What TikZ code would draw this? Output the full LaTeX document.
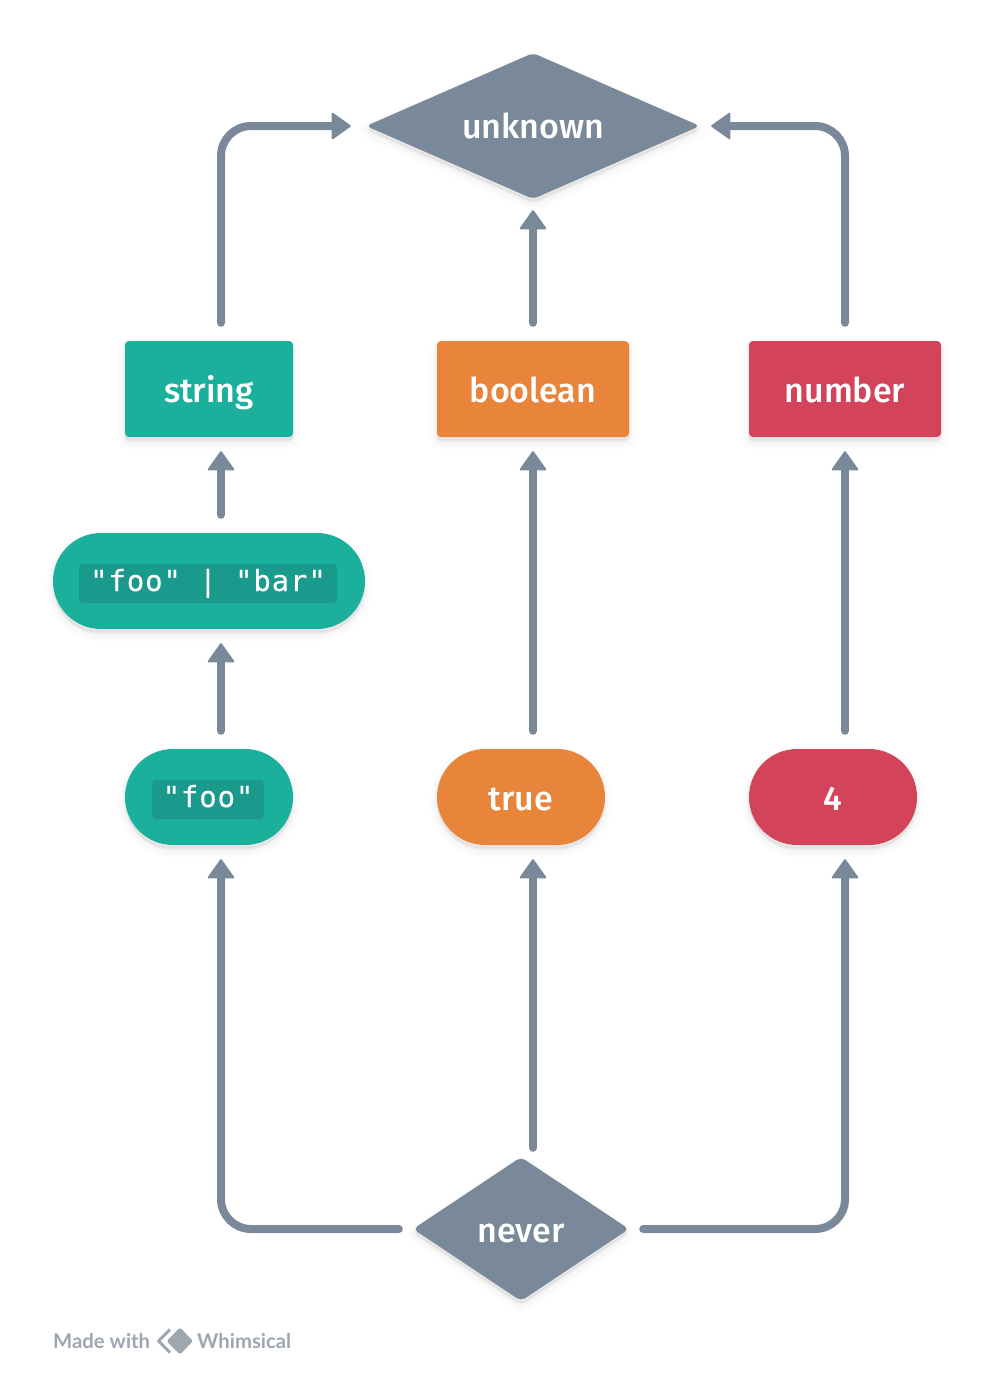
\documentclass[tikz,border=0pt]{standalone}
\usepackage{fontspec}
\setmainfont{Fira Sans Medium}
\newfontfamily\monofnt[LetterSpace=3,FakeBold=0.25]{DejaVu Sans Mono}
\newfontfamily\logofnt{Lato}
\usetikzlibrary{arrows.meta,shapes.geometric,calc}
\definecolor{slate}{HTML}{7A8999}
\definecolor{tealc}{HTML}{1BB09C}
\definecolor{tealdark}{HTML}{1A9A8C}
\definecolor{orangec}{HTML}{E8853A}
\definecolor{redc}{HTML}{D3445B}
\definecolor{logogrey}{HTML}{9EA6B0}
\tikzset{
  softshadow/.style={
    preaction={draw=black,draw opacity=.012,fill=black,fill opacity=.012,line width=14pt,transform canvas={yshift=-5pt}},
    preaction={draw=black,draw opacity=.012,fill=black,fill opacity=.012,line width=9pt,transform canvas={yshift=-5pt}},
    preaction={draw=black,draw opacity=.015,fill=black,fill opacity=.015,line width=5pt,transform canvas={yshift=-4pt}},
    preaction={draw=black,draw opacity=.02,fill=black,fill opacity=.02,line width=2pt,transform canvas={yshift=-3pt}}},
  label font/.style={text=white,text height=26pt,text depth=0pt,font=\fontsize{34}{40}\selectfont},
  boxnode/.style={softshadow,fill=#1,rectangle,rounded corners=4pt,minimum height=96pt,inner sep=0pt,label font},
  pillnode/.style={softshadow,fill=#1,rectangle,rounded corners=48pt,minimum height=96pt,inner sep=0pt,label font},
  decision/.style={softshadow,fill=slate,diamond,rounded corners=5pt,inner sep=0pt,label font},
  codechip/.style={fill=tealdark,rounded corners=4pt,minimum height=39pt,inner sep=0pt,text=white,text height=15pt,text depth=0pt,font=\monofnt\fontsize{29}{32}\selectfont},
  conn/.style={draw=slate,line width=8pt,line cap=round,rounded corners=30pt,
    -{Triangle[length=20pt,width=28pt,round,line width=2pt]}}
}
\begin{document}
\begin{tikzpicture}[x=1pt,y=-1pt]
\useasboundingbox (0,0) rectangle (994,1381);
\fill[white] (0,0) rectangle (994,1381);

\node[decision,minimum width=334pt,minimum height=146pt,aspect=2.29] (unknown) at (533,126) {};
\node[label font] (unknowntext) at (533,125) {unknown};
\node[decision,minimum width=216pt,minimum height=144pt,aspect=1.5] (never) at (521,1229) {};
\node[label font] (nevertext) at (521,1229) {never};

\node[boxnode=tealc,minimum width=168pt] (string) at (209,389) {string};
\node[boxnode=orangec,minimum width=192pt] (boolean) at (533,389) {boolean};
\node[boxnode=redc,minimum width=192pt] (number) at (845,389) {number};

\node[pillnode=tealc,minimum width=312pt] (union) at (209,581) {};
\node[codechip,minimum width=258pt] (unionchip) at (208,583.5) {"foo" | "bar"};
\node[pillnode=tealc,minimum width=168pt] (foo) at (209,797) {};
\node[codechip,minimum width=112pt] (foochip) at (208,799.5) {"foo"};
\node[pillnode=orangec,minimum width=168pt] (true) at (521,797) {true};
\node[pillnode=redc,minimum width=168pt] (four) at (833,797) {4};

\draw[conn] ([xshift=12pt,yshift=18pt]string.north) |- ([xshift=-15pt]unknown.west);
\draw[conn] ([yshift=18pt]boolean.north) -- ([yshift=-11pt]unknown.south);
\draw[conn] ([yshift=18pt]number.north) |- ([xshift=11pt]unknown.east);
\draw[conn] ([xshift=12pt,yshift=18pt]union.north) -- ([xshift=12pt,yshift=-14pt]string.south);
\draw[conn] ([xshift=12pt,yshift=18pt]foo.north) -- ([xshift=12pt,yshift=-14pt]union.south);
\draw[conn] ([xshift=12pt,yshift=18pt]true.north) -- ([yshift=-14pt]boolean.south);
\draw[conn] ([xshift=12pt,yshift=18pt]four.north) -- ([yshift=-14pt]number.south);
\draw[conn] ([xshift=-14pt]never.west) -| ([xshift=12pt,yshift=-14pt]foo.south);
\draw[conn] ([xshift=12pt,yshift=9pt]never.north) -- ([xshift=12pt,yshift=-14pt]true.south);
\draw[conn] ([xshift=14pt]never.east) -| ([xshift=12pt,yshift=-14pt]four.south);

\node[anchor=west,inner sep=0pt,text=logogrey,font=\logofnt\bfseries\fontsize{20.3}{24}\selectfont] (made) at (53,1341) {Made with};
\node[anchor=west,inner sep=0pt,text=logogrey,font=\logofnt\bfseries\fontsize{20.3}{24}\selectfont] (whim) at (197,1341) {Whimsical};
\draw[logogrey,line width=3pt,line join=round] (170,1329.5) -- (158.5,1341) -- (170,1352.5);
\fill[logogrey,rounded corners=1.5pt] (180,1327.5) -- (193,1341) -- (180,1354.5) -- (166.5,1341) -- cycle;
\end{tikzpicture}
\end{document}
